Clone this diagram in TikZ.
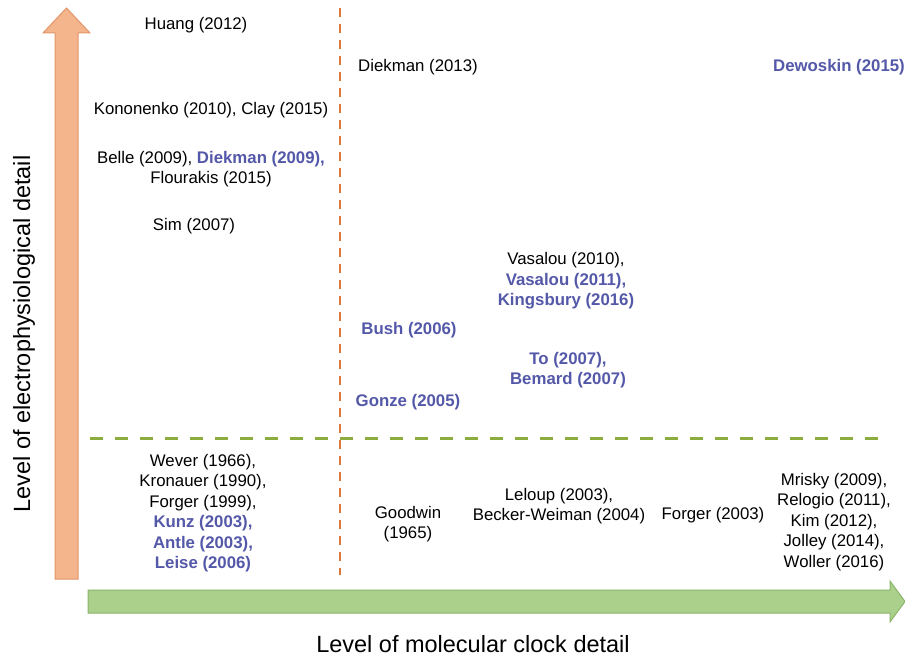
\documentclass[tikz,border=0pt]{standalone}
\usepackage{fontspec}
\setmainfont{Liberation Sans}
\definecolor{citeblue}{RGB}{84,88,168}
\definecolor{axisorange}{RGB}{244,181,140}
\definecolor{axisorangeline}{RGB}{226,150,105}
\definecolor{axisgreen}{RGB}{170,208,140}
\definecolor{axisgreenline}{RGB}{140,180,105}
\definecolor{splitorange}{RGB}{222,120,55}
\definecolor{splitgreen}{RGB}{140,172,62}
\tikzset{
	cite/.style={align=center,inner sep=0pt,font=\fontsize{16.8}{20.5}\selectfont},
	newcite/.style={cite,text=citeblue,font=\fontsize{16.8}{20.5}\selectfont\bfseries},
	axislabel/.style={font=\fontsize{23.5}{26}\selectfont,inner sep=0pt}
}
\newcommand{\nb}[1]{\textcolor{citeblue}{\bfseries #1}}
\begin{document}
		\begin{tikzpicture}[x=1pt,y=-1pt]
			\useasboundingbox (0,0) rectangle (905,658);
			
			% axis arrows
			\filldraw[fill=axisorange,draw=axisorangeline,line width=1pt]
				(55,579) -- (55,33) -- (43,33) -- (66.5,8) -- (90,33) -- (78,33) -- (78,579) -- cycle;
			\filldraw[fill=axisgreen,draw=axisgreenline,line width=1pt]
				(88,590) -- (890,590) -- (890,581) -- (905,601.5) -- (890,622) -- (890,613) -- (88,613) -- cycle;
			
			% quadrant split
			\coordinate (vtop) at (340,8);
			\coordinate (vbot) at (340,575);
			\coordinate (hleft) at (90,438);
			\coordinate (hright) at (885,438);
			\draw[splitorange,line width=2pt,dash pattern=on 9pt off 7pt] (vtop) -- (vbot);
			\draw[splitgreen,line width=3pt,dash pattern=on 13pt off 12pt] (hleft) -- (hright);
			
			\node[axislabel,rotate=90] (ylab) at (24,334) {Level of electrophysiological detail};
			\node[axislabel] (xlab) at (473,644) {Level of molecular clock detail};
			
			% upper left
			\begin{scope}[every node/.style={cite}]
				\node (huang) at (196,25) {Huang (2012)};
				\node (kono) at (211,110) {Kononenko (2010), Clay (2015)};
				\node (belle) at (211,169) {Belle (2009), \nb{Diekman (2009),}\\Flourakis (2015)};
				\node (sim) at (194,226) {Sim (2007)};
			\end{scope}
			
			% upper right
			\node[cite] (diek) at (418,67) {Diekman (2013)};
			\node[newcite,anchor=east] (dewo) at (905,67) {Dewoskin (2015)};
			\node[cite] (vasa) at (566,281) {Vasalou (2010),\\\nb{Vasalou (2011),}\\\nb{Kingsbury (2016)}};
			\node[newcite] (bush) at (409,330) {Bush (2006)};
			\node[newcite] (to) at (568,370) {To (2007),\\Bemard (2007)};
			\node[newcite] (gonze) at (408,402) {Gonze (2005)};
			
			% lower row
			\begin{scope}[every node/.style={cite}]
				\node (wever) at (203,513) {Wever (1966),\\Kronauer (1990),\\Forger (1999),\\\nb{Kunz (2003),}\\\nb{Antle (2003),}\\\nb{Leise (2006)}};
				\node (good) at (408,524) {Goodwin\\(1965)};
				\node (lel) at (559,506) {Leloup (2003),\\Becker-Weiman (2004)};
				\node (forg) at (713,515) {Forger (2003)};
				\node (mri) at (834,522) {Mrisky (2009),\\Relogio (2011),\\Kim (2012),\\Jolley (2014),\\Woller (2016)};
			\end{scope}
		\end{tikzpicture}
\end{document}
